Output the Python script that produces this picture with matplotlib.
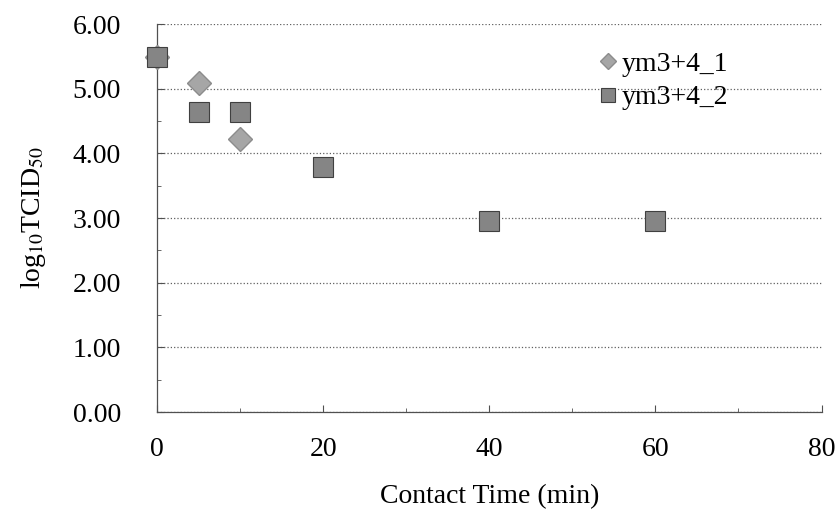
import matplotlib.pyplot as plt
import numpy as np

# data
time_1 = [0, 5, 10]
logtcid_1 = [5.5, 5.09, 4.22]
time_2 = [0, 5, 10, 20, 40, 60]
logtcid_2 = [5.49, 4.64, 4.64, 3.79, 2.96, 2.96]
labels = ['ym3+4_1', 'ym3+4_2']

plt.rcParams['font.family'] = ['Liberation Serif', 'DejaVu Serif']
plt.rcParams['font.size'] = 20
plt.rcParams['mathtext.fontset'] = 'stix'

fig, ax = plt.subplots(figsize=(8.4, 5.15), dpi=100)
fig.subplots_adjust(left=0.187, right=0.978, top=0.953, bottom=0.2)

ax.plot(time_1, logtcid_1, linestyle='none', marker='D', markersize=12,
        color='#a6a6a6', markeredgecolor='#8c8c8c', label=labels[0],
        zorder=3, clip_on=False)
ax.plot(time_2, logtcid_2, linestyle='none', marker='s', markersize=15,
        color='#858585', markeredgecolor='#404040', markeredgewidth=0.8,
        label=labels[1], zorder=4, clip_on=False)

ax.set_xlim(0, 80)
ax.set_ylim(0, 6)
ax.set_xticks(np.arange(0, 81, 20))
ax.set_xticks(np.arange(10, 80, 20), minor=True)
ax.set_yticks(np.arange(0, 6.1, 1))
ax.set_yticks(np.arange(0.5, 6, 1), minor=True)
ax.yaxis.set_major_formatter(plt.FormatStrFormatter('%.2f'))

ax.grid(axis='y', linestyle=':', color='#606060', linewidth=0.9)
ax.set_axisbelow(True)
for s in ['top', 'right']:
    ax.spines[s].set_visible(False)
for s in ['left', 'bottom']:
    ax.spines[s].set_color('#505050')
    ax.spines[s].set_linewidth(0.9)
ax.tick_params(which='both', direction='in', color='#505050')
ax.tick_params(which='major', length=5)
ax.tick_params(axis='y', which='major', pad=26)
ax.tick_params(axis='x', which='major', pad=18)
ax.tick_params(which='minor', length=3)

ax.set_xlabel('Contact Time (min)', labelpad=16)
ax.set_ylabel(r'log$_{10}$TCID$_{50}$', labelpad=18)

ax.legend(loc='upper left', bbox_to_anchor=(0.62, 0.995), frameon=False,
          handletextpad=0.0, labelspacing=0.3, handlelength=1.0,
          markerscale=0.7)

plt.savefig('out.png', dpi=100)
